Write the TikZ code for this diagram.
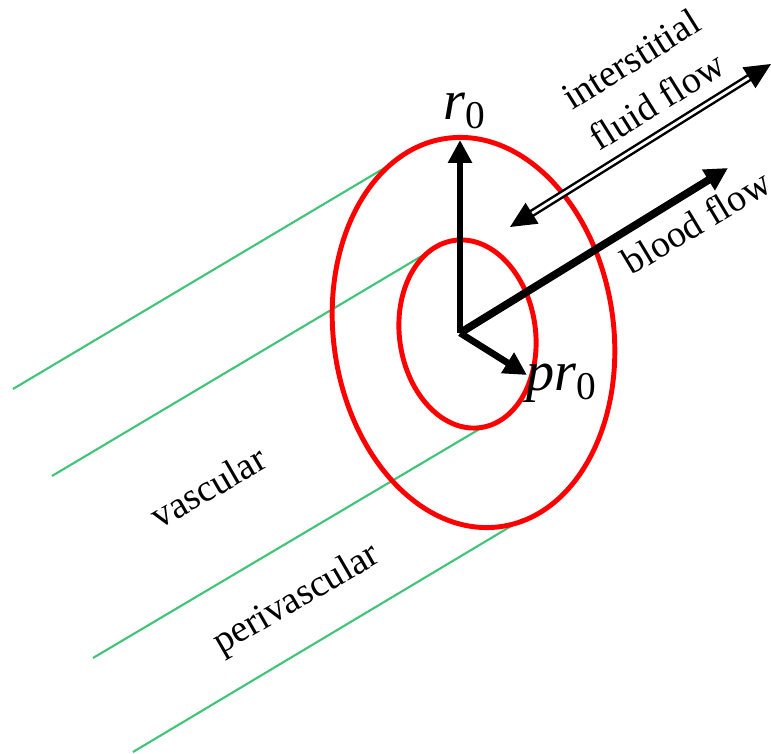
\documentclass[tikz,border=0pt]{standalone}
\usepackage{fontspec}
\setmainfont{Liberation Serif}
\usepackage{xcolor}
\usetikzlibrary{arrows.meta}
\definecolor{vesselgreen}{RGB}{64,196,120}

\begin{document}
\begin{tikzpicture}[
    wall/.style={draw=red, line width=1.4pt},
    edge/.style={draw=vesselgreen, line width=0.6pt},
    vec/.style={-{Triangle[length=2.3mm, width=2.3mm]}, line width=1.9pt},
    lbl/.style={font=\fontsize{10.8}{14}\selectfont, rotate=30},
    sym/.style={font=\fontsize{16}{18}\selectfont\itshape, inner sep=0pt},
]
\useasboundingbox (-4.60,-4.21) rectangle (3.11,3.33);

% Vessel outline
\draw[edge] (-4.47,-0.56) -- (-0.57,1.76);
\draw[edge] (-4.08,-1.43) -- (-0.18,0.89);
\draw[edge] (-3.67,-3.25) -- (0.23,-0.94);
\draw[edge] (-3.27,-4.19) -- (0.63,-1.86);

% Vessel walls
\draw[wall, rotate around={8:(0.135,0.005)}] (0.135,0.005) ellipse (1.40 and 1.96);
\draw[wall, rotate around={8:(0.075,-0.01)}] (0.075,-0.01) ellipse (0.68 and 0.945);

% Radii and flow directions
\coordinate (O) at (0,0);
\coordinate (r0tip) at (0,1.93);
\coordinate (prtip) at (0.67,-0.42);
\coordinate (bloodtip) at (2.68,1.65);
\coordinate (fluidA) at (0.50,1.06);
\coordinate (fluidB) at (3.11,2.69);

\draw[vec] (O) -- (r0tip);
\draw[vec] (O) -- (prtip);
\draw[vec, line width=2.2pt] (O) -- (bloodtip);
\draw[{Triangle[length=2.6mm, width=2.4mm]}-{Triangle[length=2.6mm, width=2.4mm]},
      double, double distance=0.8pt, line width=0.7pt] (fluidA) -- (fluidB);

% Labels
\node[sym] (r0) at (0.05,2.22) {r\textsubscript{\upshape 0}};
\node[sym] (pr0) at (1.02,-0.5) {pr\textsubscript{\upshape 0}};
\node[lbl, rotate=2, align=center] (fluid) at (1.84,2.53) {interstitial\\fluid flow};
\node[lbl, rotate=1] (blood) at (2.36,1.11) {blood flow};
\node[lbl] (vasc) at (-2.52,-1.54) {vascular};
\node[lbl] (perivasc) at (-1.63,-2.67) {perivascular};

\end{tikzpicture}
\end{document}
